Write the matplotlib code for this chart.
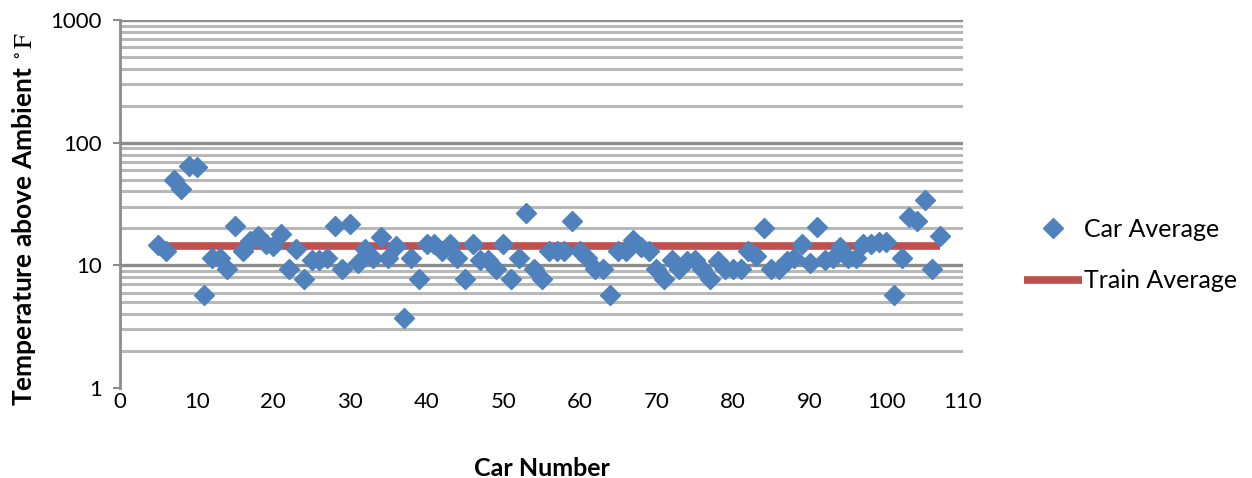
import matplotlib
matplotlib.use("Agg")
import matplotlib.pyplot as plt
from matplotlib.ticker import NullFormatter, FixedLocator

car_numbers = list(range(5, 108))
car_average = [
    14.6, 13.2, 50, 42, 65, 63, 5.7, 11.4, 11.4, 9.4,      # 5-14
    20.8, 13, 15.7, 17.2, 15, 14.5, 17.9, 9.4, 13.5, 7.7,  # 15-24
    11, 11, 11.4, 20.8, 9.4, 21.6, 10.5, 13.5, 11.4, 17,   # 25-34
    11.4, 14.5, 3.7, 11.4, 7.7, 14.8, 14.8, 13, 15, 11.4,  # 35-44
    7.7, 15, 11, 11, 9.4, 15, 7.7, 11.4, 26.5, 9.4,        # 45-54
    7.7, 13, 13, 13, 22.8, 13, 11.4, 9.4, 9.4, 5.7,        # 55-64
    13, 13, 16, 14, 13, 9.4, 7.7, 11, 9.4, 10.8,           # 65-74
    11, 9.4, 7.7, 10.8, 9.4, 9.4, 9.4, 13, 12, 20,         # 75-84
    9.4, 9.4, 10.8, 11.4, 15, 10.4, 20.4, 11, 11.4, 14,    # 85-94
    11.4, 11.4, 15, 14.8, 15.4, 15.4, 5.7, 11.4, 24.6, 22.8,  # 95-104
    33.8, 9.4, 17.2,                                        # 105-107
]
train_x = [5, 107]
train_average = [14.5, 14.5]

x_ticks = list(range(0, 111, 10))
y_ticks = [1, 10, 100, 1000]
y_tick_labels = ["1", "10", "100", "1000"]

plt.rcParams['font.family'] = ['Lato', 'DejaVu Sans']
plt.rcParams['mathtext.fontset'] = 'stix'

fig = plt.figure(figsize=(12.52, 4.78), dpi=100)
ax = fig.add_axes([120/1252, 1-388/478, (963-120)/1252, (388-20)/478])

ax.set_yscale('log')
ax.set_ylim(1, 1000)
ax.set_xlim(0, 110)

minor_vals = [m * 10**e for e in range(0, 3) for m in range(2, 10)]
for v in minor_vals:
    ax.axhline(v, color='#b8b8b8', lw=2.2, zorder=0)
for v in [10, 100, 1000]:
    ax.axhline(v, color='#8c8c8c', lw=2.4, zorder=0)

ax.plot(train_x, train_average, color='#C0504D', lw=5.5, solid_capstyle='butt',
        label='Train Average', zorder=2)
ax.plot(car_numbers, car_average, linestyle='none', marker='D', markersize=10.5,
        color='#4F81BD', markeredgecolor='#4F81BD', label='Car Average', zorder=3)

ax.yaxis.set_major_locator(FixedLocator(y_ticks))
ax.set_yticklabels(y_tick_labels)
ax.yaxis.set_minor_locator(FixedLocator(minor_vals))
ax.yaxis.set_minor_formatter(NullFormatter())
ax.tick_params(axis='y', which='minor', length=0)
ax.tick_params(axis='y', which='major', length=5, width=1.5, color='#8c8c8c',
               labelsize=16, pad=8)
ax.set_xticks(x_ticks)
ax.tick_params(axis='x', length=0, labelsize=16, pad=3)

for s in ['top', 'right', 'bottom']:
    ax.spines[s].set_visible(False)
ax.spines['left'].set_color('#8c8c8c')
ax.spines['left'].set_linewidth(2)

ax.set_ylabel(r"Temperature above Ambient $^\circ\mathrm{F}$", fontsize=19,
              fontweight='bold')
ax.yaxis.set_label_coords((38-120)/843, (388-219)/368)
ax.set_xlabel("Car Number", fontsize=18, fontweight='bold', labelpad=32)

h, l = ax.get_legend_handles_labels()
leg = ax.legend([h[1], h[0]], [l[1], l[0]], loc='center left',
                bbox_to_anchor=(1024/1252, 1-255/478), bbox_transform=fig.transFigure,
                frameon=False, fontsize=18, handlelength=2.3, handletextpad=0.1,
                labelspacing=1.15, borderpad=0, borderaxespad=0)

fig.savefig("out.png", dpi=100)
